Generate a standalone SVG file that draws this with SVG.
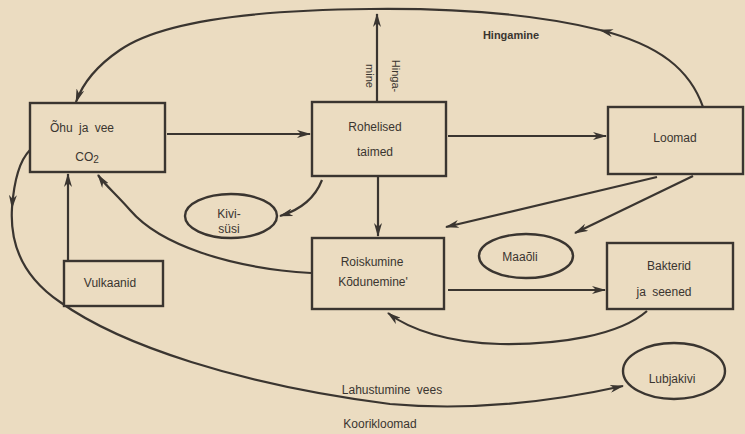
<svg xmlns="http://www.w3.org/2000/svg" width="745" height="434" viewBox="0 0 745 434">
<style>
.bg{fill:#ebdcc1}
.box{fill:#ebdcc1;stroke:#3a3530;stroke-width:2.4}
.ln{fill:none;stroke:#3a3530;stroke-width:2.2}
.arr{marker-end:url(#ah)}
text{font-family:"Liberation Sans",Arial,sans-serif;font-size:12px;fill:#3a3530;text-anchor:middle;word-spacing:3px}
.b{font-weight:bold}
</style>
<defs>
<marker id="ah" viewBox="0 0 14 8" refX="13" refY="4" markerWidth="14" markerHeight="8" markerUnits="userSpaceOnUse" orient="auto">
<path d="M0,0 L14,4 L0,8 L4,4 Z" fill="#3a3530"/>
</marker>
</defs>
<rect class="bg" x="0" y="0" width="745" height="434"/>

<g id="connectors">
<path class="ln arr" d="M167,134 L310,134"/>
<path class="ln arr" d="M448,136 L606,136"/>
<path class="ln arr" d="M377,102 L377,14"/>
<path class="ln arr" d="M703,107 C690,70 660,45 600,30"/>
<path class="ln arr" d="M600,30 C540,15 460,8 370,9 C250,10 160,22 120,50 C95,67 82,85 76,102"/>
<path class="ln arr" d="M378,177 L378,236"/>
<path class="ln arr" d="M322,180 C315,198 300,210 280,216"/>
<path class="ln arr" d="M311,273 C230,268 160,245 130,210 C115,193 105,185 98,175"/>
<path class="ln arr" d="M68,260 L68,174"/>
<path class="ln arr" d="M657,177 L446,227"/>
<path class="ln arr" d="M693,176 L575,233"/>
<path class="ln arr" d="M448,290 L605,290"/>
<path class="ln arr" d="M647,311 C620,335 560,345 500,344 C450,343 410,330 388,313"/>
<path class="ln arr" d="M30,150 C20,160 14,180 12,208"/>
<path class="ln arr" d="M12,208 C10,240 20,275 60,302 C120,345 240,385 390,404 C480,412 560,400 623,386"/>
<text x="511" y="39" class="b" style="font-size:11px">Hingamine</text>
<text transform="translate(392,76) rotate(90)" style="font-size:11px">Hinga-</text>
<text transform="translate(366,76) rotate(90)" style="font-size:11px">mine</text>
<text x="392" y="394">Lahustumine vees</text>
<text x="380" y="428">Koorikloomad</text>
</g>

<g id="ohu">
<rect class="box" x="30" y="103" width="135" height="69"/>
<text x="82" y="132">Õhu ja vee</text>
<text x="87" y="161">CO<tspan font-size="10" dy="2">2</tspan></text>
</g>
<g id="rohelised">
<rect class="box" x="312" y="102" width="134" height="74"/>
<text x="375" y="131">Rohelised</text>
<text x="375" y="156">taimed</text>
</g>
<g id="loomad">
<rect class="box" x="608" y="107" width="135" height="67"/>
<text x="675" y="142">Loomad</text>
</g>
<g id="roiskumine">
<rect class="box" x="312" y="238" width="132" height="71"/>
<text x="372" y="266">Roiskumine</text>
<text x="373" y="286">Kõdunemine'</text>
</g>
<g id="bakterid">
<rect class="box" x="607" y="243" width="126" height="66"/>
<text x="669" y="270">Bakterid</text>
<text x="664" y="296">ja seened</text>
</g>
<g id="vulkaanid">
<rect class="box" x="64" y="261" width="99" height="45"/>
<text x="110" y="287">Vulkaanid</text>
</g>
<g id="kivisusi">
<ellipse class="box" cx="231" cy="216" rx="46" ry="22"/>
<text x="229" y="218">Kivi-</text>
<text x="229" y="233">süsi</text>
</g>
<g id="maaoli">
<ellipse class="box" cx="526" cy="256" rx="47" ry="22"/>
<text x="520" y="261">Maaõli</text>
</g>
<g id="lubjakivi">
<ellipse class="box" cx="674" cy="371" rx="51" ry="28"/>
<text x="672" y="383">Lubjakivi</text>
</g>
</svg>
